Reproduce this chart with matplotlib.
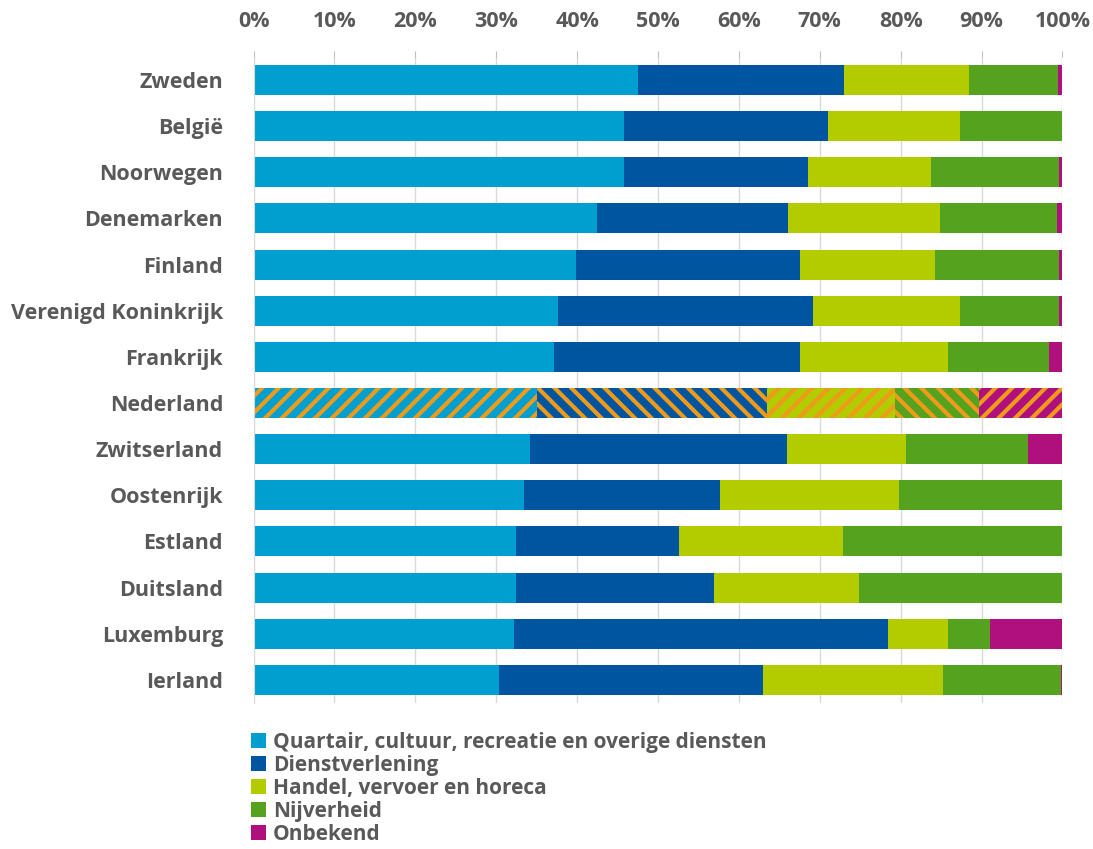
import numpy as np
import matplotlib.pyplot as plt
from matplotlib.patches import Patch

plt.rcParams['font.family'] = ['Open Sans', 'DejaVu Sans']
plt.rcParams['hatch.linewidth'] = 3.0

landen = ['Zweden', 'België', 'Noorwegen', 'Denemarken', 'Finland',
          'Verenigd Koninkrijk', 'Frankrijk', 'Nederland', 'Zwitserland',
          'Oostenrijk', 'Estland', 'Duitsland', 'Luxemburg', 'Ierland']

# aandelen in procenten per sector
quartair = [47.5, 45.8, 45.8, 42.5, 39.9, 37.6, 37.1, 35.0, 34.2, 33.4, 32.5, 32.4, 32.2, 30.4]
dienst = [25.5, 25.2, 22.8, 23.6, 27.7, 31.6, 30.4, 28.5, 31.8, 24.3, 20.1, 24.5, 46.3, 32.6]
handel = [15.4, 16.4, 15.1, 18.8, 16.6, 18.2, 18.3, 15.8, 14.7, 22.1, 20.3, 18.0, 7.4, 22.3]
nijverheid = [11.0, 12.6, 15.9, 14.4, 15.4, 12.2, 12.5, 10.4, 15.1, 20.2, 27.0, 25.1, 5.2, 14.5]
onbekend = [0.6, 0.0, 0.4, 0.7, 0.4, 0.4, 1.7, 10.3, 4.2, 0.0, 0.1, 0.0, 8.9, 0.2]

reeksen = ['Quartair, cultuur, recreatie en overige diensten', 'Dienstverlening',
           'Handel, vervoer en horeca', 'Nijverheid', 'Onbekend']
kleuren = ['#009FD0', '#0055A0', '#B2CC00', '#55A21F', '#B0107E']
hatches = ['//', '\\\\', '//', '\\\\', '//']

data = [quartair, dienst, handel, nijverheid, onbekend]

fig = plt.figure(figsize=(10.93, 8.49), dpi=100)
ax = fig.add_axes([0.232, 0.172, 0.740, 0.761])

y = np.arange(len(landen))
links = np.zeros(len(landen))
nl = landen.index('Nederland')
for i, (naam, waarden) in enumerate(zip(reeksen, data)):
    waarden = np.array(waarden)
    bars = ax.barh(y, waarden, left=links, height=0.65, color=kleuren[i],
                   edgecolor='none', label=naam, zorder=2)
    # Nederland gearceerd
    bars[nl].set_hatch(hatches[i])
    bars[nl].set_edgecolor('#EE9A1A')
    bars[nl].set_linewidth(0)
    links += waarden

ax.set_xlim(0, 100)
ax.set_ylim(len(landen) - 0.5, -0.5)
ax.set_yticks(y)
ax.set_yticklabels(landen, fontsize=15.5, fontweight='bold', color='#595959')
ax.set_xticks(np.arange(0, 101, 10))
ax.set_xticklabels([f'{v}%' for v in range(0, 101, 10)], fontsize=15.5,
                   fontweight='bold', color='#595959')
ax.xaxis.tick_top()
ax.tick_params(axis='x', length=4, color='#BFBFBF', pad=14)
ax.tick_params(axis='y', length=0, pad=22)
ax.grid(axis='x', color='#D9D9D9', linewidth=1, zorder=0)
for s in ['top', 'right', 'bottom']:
    ax.spines[s].set_visible(False)
ax.spines['left'].set_color('#D9D9D9')

handles = [Patch(facecolor=k, label=r) for k, r in zip(kleuren, reeksen)]
leg = fig.legend(handles=handles, loc='upper left', bbox_to_anchor=(0.222, 0.148),
                 frameon=False, fontsize=15, handlelength=0.7, handleheight=0.7,
                 handletextpad=0.35, labelspacing=0.1, borderaxespad=0)
for t in leg.get_texts():
    t.set_color('#595959')
    t.set_fontweight('bold')

fig.savefig('out.png', dpi=100)
